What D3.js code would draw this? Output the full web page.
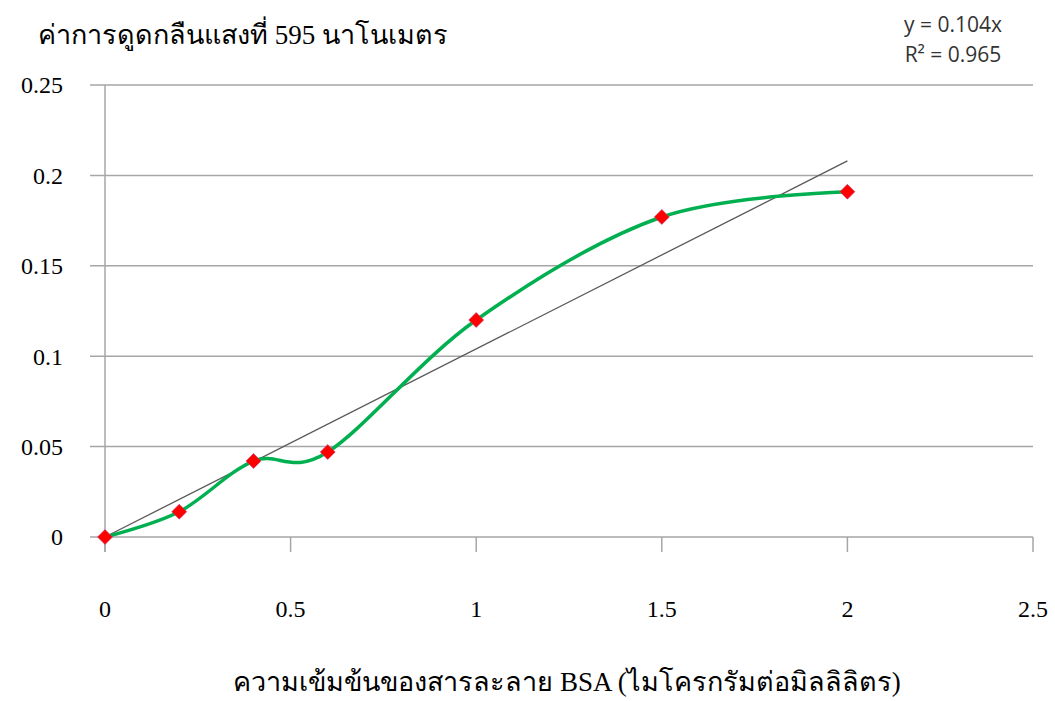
<!DOCTYPE html>
<html><head><meta charset="utf-8">
<script src="https://cdn.jsdelivr.net/npm/d3@7"></script>
<style>body{margin:0;background:#fff}</style>
</head><body>
<svg id="c" width="1055" height="701"></svg>
<script>
const xValues = [0, 0.2, 0.4, 0.6, 1, 1.5, 2];
const yValues = [0, 0.014, 0.042, 0.047, 0.12, 0.177, 0.191];
const xTicks = [0, 0.5, 1, 1.5, 2, 2.5];
const yTicks = [0, 0.05, 0.1, 0.15, 0.2, 0.25];
const trendSlope = 0.104;
const trendRange = [0, 2];
const titleText = "ค่าการดูดกลืนแสงที่ 595 นาโนเมตร";
const xLabelText = "ความเข้มข้นของสารละลาย BSA (ไมโครกรัมต่อมิลลิลิตร)";
const eqLines = ["y = 0.104x", "R² = 0.965"];

const svg = d3.select("#c");
const x = d3.scaleLinear().domain([0, 2.5]).range([105, 1033]);
const y = d3.scaleLinear().domain([0, 0.25]).range([537, 85]);
const serif = "'Liberation Serif','DejaVu Serif',serif";
const grid = "#a6a6a6";

svg.append("g").selectAll("line").data(yTicks).join("line")
  .attr("x1", 90).attr("x2", x(2.5)).attr("y1", d => y(d)).attr("y2", d => y(d))
  .attr("stroke", grid).attr("stroke-width", 1.5);
svg.append("line").attr("x1", x(0)).attr("x2", x(0)).attr("y1", y(0.25)).attr("y2", y(0)+15)
  .attr("stroke", grid).attr("stroke-width", 1.5);
svg.append("g").selectAll("line").data(xTicks).join("line")
  .attr("x1", d => x(d)).attr("x2", d => x(d)).attr("y1", y(0)).attr("y2", y(0)+15)
  .attr("stroke", grid).attr("stroke-width", 1.5);

svg.append("g").selectAll("text").data(yTicks).join("text")
  .attr("x", 63).attr("y", d => y(d)).attr("dy", "0.35em")
  .attr("text-anchor", "end").attr("font-family", serif).attr("font-size", 24)
  .text(d => d);
svg.append("g").selectAll("text").data(xTicks).join("text")
  .attr("x", d => x(d)).attr("y", 617)
  .attr("text-anchor", "middle").attr("font-family", serif).attr("font-size", 24)
  .text(d => d);

svg.append("line").attr("x1", x(trendRange[0])).attr("y1", y(trendSlope*trendRange[0]))
  .attr("x2", x(trendRange[1])).attr("y2", y(trendSlope*trendRange[1]))
  .attr("stroke", "#595959").attr("stroke-width", 1.3);

const pts = xValues.map((v, i) => [v, yValues[i]]);
svg.append("path").datum(pts)
  .attr("d", d3.line().x(d => x(d[0])).y(d => y(d[1])).curve(d3.curveCardinal.tension(0)))
  .attr("fill", "none").attr("stroke", "#00b050").attr("stroke-width", 3.5);

svg.append("g").selectAll("path").data(pts).join("path")
  .attr("transform", d => `translate(${x(d[0])},${y(d[1])})`)
  .attr("d", "M0,-7.5L7.5,0L0,7.5L-7.5,0Z")
  .attr("fill", "#ff0000").attr("stroke", "#c04080").attr("stroke-width", 0.6);

svg.append("text").attr("x", 38).attr("y", 44).attr("font-family", serif).attr("font-size", 27)
  .text(titleText);
svg.append("text").attr("x", 567).attr("y", 691).attr("text-anchor", "middle")
  .attr("font-family", serif).attr("font-size", 27).text(xLabelText);
svg.append("g").selectAll("text").data(eqLines).join("text")
  .attr("x", 953).attr("y", (d, i) => 32 + i*30).attr("text-anchor", "middle")
  .attr("font-family", "'Open Sans','Liberation Sans',sans-serif").attr("font-size", 21)
  .attr("fill", "#333").text(d => d);
</script>
</body></html>
